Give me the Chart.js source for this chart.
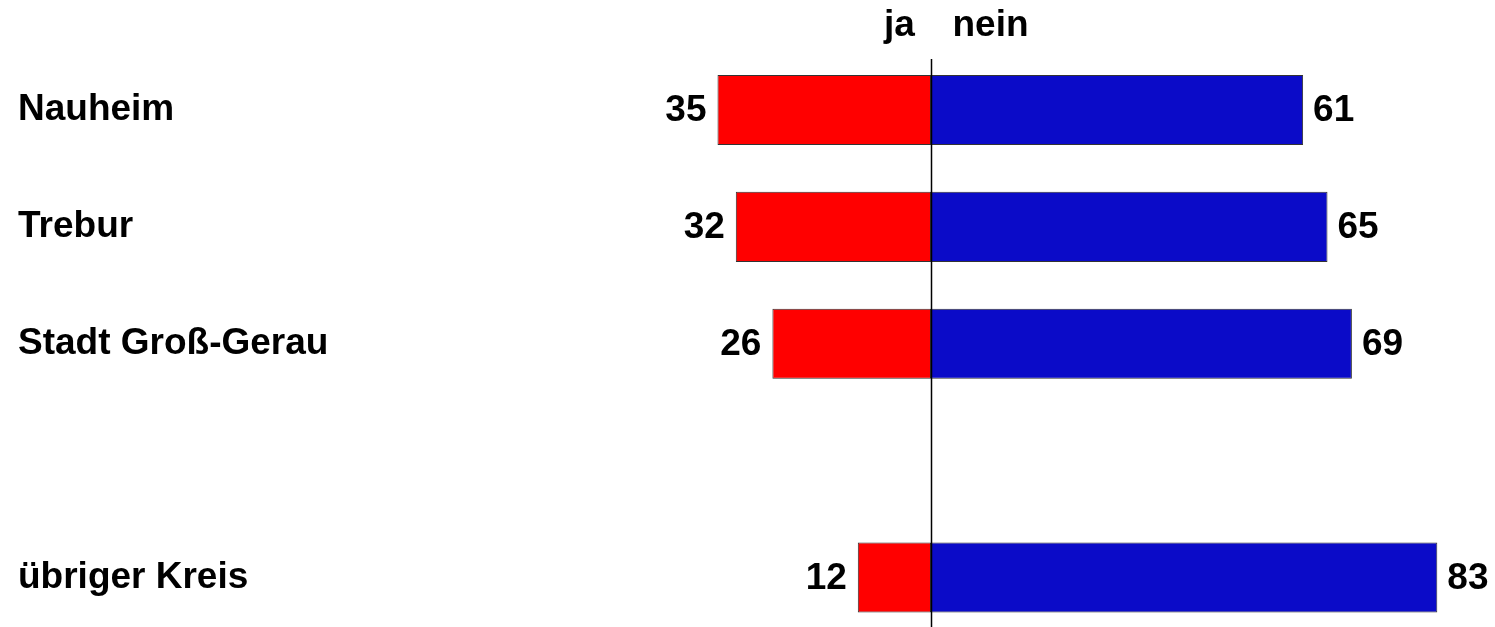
<!DOCTYPE html>
<html>
<head>
<meta charset="utf-8">
<script src="https://cdn.jsdelivr.net/npm/chart.js@4"></script>
<style>
  html, body { margin: 0; padding: 0; background: #fff; overflow: hidden; }
  #chart { display: block; }
</style>
</head>
<body>
<canvas id="chart" width="1495" height="640"></canvas>
<script>
// Abstimmung: ja / nein in Prozent
var gemeinden = ['Nauheim', 'Trebur', 'Stadt Groß-Gerau', '', 'übriger Kreis'];
var jaWerte = [35, 32, 26, null, 12];
var neinWerte = [61, 65, 69, null, 83];
var kopfLabels = ['ja', 'nein'];

var FONT = '"Liberation Sans", Arial, Helvetica, sans-serif';
var FONT_SIZE = 37;

// values as numbers beside the bar ends + zero line + header
var extrasPlugin = {
    id: 'extras',
    afterDatasetsDraw: function(chart) {
        var ctx = chart.ctx;
        var xs = chart.scales.x;
        var x0 = Math.round(xs.getPixelForValue(0)) + 0.5;

        ctx.save();
        ctx.strokeStyle = '#000';
        ctx.lineWidth = 1.5;
        ctx.beginPath();
        ctx.moveTo(x0, 59);
        ctx.lineTo(x0, chart.height);
        ctx.stroke();

        ctx.fillStyle = '#000';
        ctx.font = 'bold ' + FONT_SIZE + 'px ' + FONT;
        ctx.textBaseline = 'middle';

        chart.data.datasets.forEach(function(ds, di) {
            var meta = chart.getDatasetMeta(di);
            meta.data.forEach(function(bar, i) {
                var v = di === 0 ? jaWerte[i] : neinWerte[i];
                if (v === null) return;
                if (di === 0) {
                    ctx.textAlign = 'right';
                    ctx.fillText(String(v), bar.x - 11, bar.y + 1);
                } else {
                    ctx.textAlign = 'left';
                    ctx.fillText(String(v), bar.x + 10, bar.y + 1);
                }
            });
        });

        ctx.textAlign = 'center';
        ctx.fillText(kopfLabels[0], x0 - 32, 26);
        ctx.fillText(kopfLabels[1], x0 + 59, 26);
        ctx.restore();
    }
};

new Chart(document.getElementById('chart'), {
    type: 'bar',
    data: {
        labels: gemeinden,
        datasets: [{
            label: kopfLabels[0],
            data: jaWerte.map(function(v) { return v === null ? null : -v; }),
            backgroundColor: '#ff0000',
            borderColor: '#333333',
            borderWidth: 1,
            borderSkipped: false,
            barPercentage: 0.6,
            categoryPercentage: 1.0
        }, {
            label: kopfLabels[1],
            data: neinWerte,
            backgroundColor: '#0b0bc8',
            borderColor: '#333333',
            borderWidth: 1,
            borderSkipped: false,
            barPercentage: 0.6,
            categoryPercentage: 1.0
        }]
    },
    options: {
        indexAxis: 'y',
        responsive: false,
        animation: false,
        devicePixelRatio: 1,
        layout: {
            padding: { left: 18, right: 15, top: 51.5, bottom: 4 }
        },
        scales: {
            x: {
                display: false,
                stacked: true,
                min: -90,
                max: 90
            },
            y: {
                stacked: true,
                grid: { display: false },
                border: { display: false },
                afterFit: function(scale) {
                    scale.width = 364;
                    scale.paddingTop = 0;
                    scale.paddingBottom = 0;
                },
                ticks: {
                    crossAlign: 'far',
                    autoSkip: false,
                    color: '#000',
                    font: { family: FONT, size: FONT_SIZE, weight: 'bold' }
                }
            }
        },
        plugins: {
            legend: { display: false },
            tooltip: { enabled: false }
        }
    },
    plugins: [extrasPlugin]
});
</script>
</body>
</html>
